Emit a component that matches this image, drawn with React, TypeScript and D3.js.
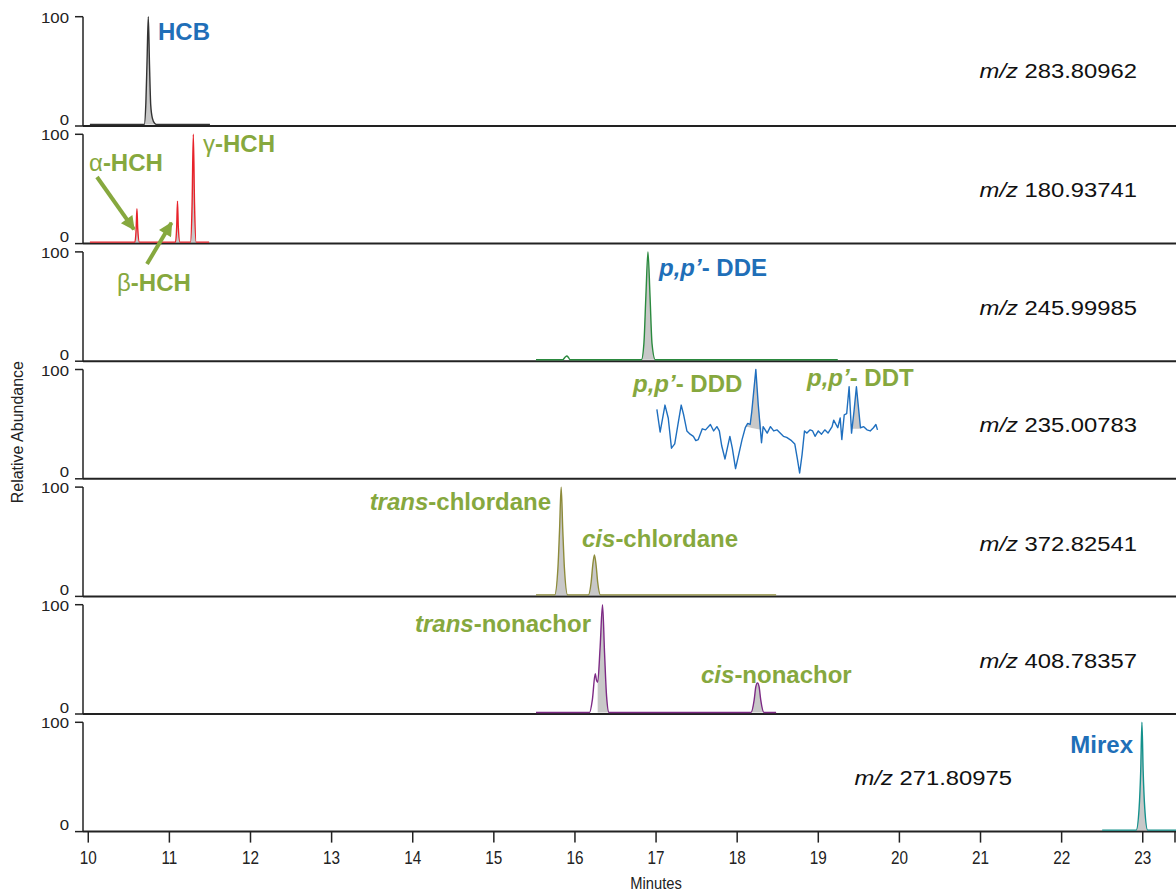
import React from 'react';
import * as d3 from 'd3';

const W = 1176;
const H = 892;

// retention time axis (minutes)
const xTicks = [10, 11, 12, 13, 14, 15, 16, 17, 18, 19, 20, 21, 22, 23];
const xDomain = [9.935, 23.41];

// HCB, m/z 283.80962
const hcbTime = [10.02, 10.69, 10.71, 10.725, 10.74, 10.755, 10.77, 10.79, 10.82, 10.85, 11.5];
const hcbAbund = [0, 0, 20, 60, 100, 55, 18, 6, 1, 0, 0];

// alpha / beta / gamma HCH, m/z 180.93741
const hchTime = [10.02, 10.575, 10.59, 10.60, 10.61, 10.63, 11.075, 11.09, 11.10, 11.11, 11.13, 11.26, 11.28, 11.295, 11.31, 11.33, 11.49];
const hchAbund = [0, 0, 12, 31, 12, 0, 0, 14, 38, 14, 0, 0, 35, 100, 35, 0, 0];

// p,p'-DDE, m/z 245.99985
const ddeTime = [15.52, 15.85, 15.88, 15.90, 15.92, 15.94, 16.82, 16.85, 16.875, 16.90, 16.925, 16.95, 16.99, 19.24];
const ddeAbund = [0, 0, 2.5, 3.5, 2, 0, 0, 15, 60, 100, 60, 15, 0, 0];

// p,p'-DDD and p,p'-DDT, m/z 235.00783
const ddTime = [
  17.01, 17.05, 17.11, 17.15, 17.19, 17.23, 17.27, 17.31, 17.34, 17.38,
  17.42, 17.46, 17.49, 17.52, 17.57, 17.61, 17.67, 17.71, 17.75, 17.78,
  17.81, 17.85, 17.89, 17.91, 17.94, 17.98, 18.01, 18.06, 18.10, 18.13,
  18.16, 18.18, 18.23, 18.26, 18.30, 18.32, 18.37, 18.41, 18.45, 18.49,
  18.53, 18.57, 18.61, 18.67, 18.71, 18.74, 18.77, 18.80, 18.83, 18.86,
  18.90, 18.93, 18.96, 19.00, 19.04, 19.08, 19.12, 19.17, 19.19, 19.24,
  19.27, 19.29, 19.32, 19.35, 19.38, 19.41, 19.44, 19.47, 19.52, 19.56,
  19.60, 19.64, 19.68, 19.71, 19.73
];
const ddAbund = [
  63, 42, 67, 55, 27, 31, 49, 67, 58, 43,
  40, 38, 34, 35, 45, 44, 49, 43, 47, 43,
  29, 17, 31, 38, 27, 8, 18, 35, 46, 50,
  49, 61, 100, 67, 32, 47, 41, 47, 43, 44,
  41, 38, 37, 34, 31, 18, 4, 21, 43, 41,
  44, 43, 38, 43, 40, 44, 41, 47, 53, 46,
  55, 35, 58, 59, 84, 41, 61, 84, 46, 47,
  44, 43, 46, 49, 44
];

// trans / cis chlordane, m/z 372.82541
const chlTime = [15.52, 15.75, 15.79, 15.81, 15.83, 15.85, 15.87, 15.91, 16.165, 16.20, 16.22, 16.24, 16.26, 16.28, 16.315, 18.48];
const chlAbund = [0, 0, 25, 60, 100, 60, 25, 0, 0, 12, 28, 37, 28, 12, 0, 0];

// trans / cis nonachlor, m/z 408.78357
const nonTime = [15.52, 16.18, 16.215, 16.25, 16.265, 16.28, 16.31, 16.34, 16.365, 16.39, 16.42, 18.17, 18.21, 18.23, 18.25, 18.27, 18.29, 18.33, 18.48];
const nonAbund = [0, 0, 12, 36, 30, 28, 60, 100, 55, 15, 0, 0, 12, 24, 27.5, 24, 12, 0, 0];

// Mirex, m/z 271.80975
const mirTime = [22.50, 22.92, 22.955, 22.975, 22.99, 23.005, 23.025, 23.06, 23.41];
const mirAbund = [0, 0, 20, 55, 100, 55, 20, 0, 0];

const mzValues = ['283.80962', '180.93741', '245.99985', '235.00783', '372.82541', '408.78357', '271.80975'];
const traceColors = ['#333333', '#e8222a', '#2a8a3e', '#1f6fbf', '#8d8b3a', '#7d2a85', '#14918c'];

// integrated regions: [from, to, base at from, base at to]
const hcbFills = [[10.69, 10.85, 0, 0]];
const hchFills = [[10.575, 10.63, 0, 0], [11.075, 11.13, 0, 0], [11.26, 11.33, 0, 0]];
const ddeFills = [[16.82, 16.99, 0, 0]];
const ddFills = [[18.10, 18.30, 47, 44], [19.41, 19.52, 45, 45]];
const chlFills = [[15.75, 15.91, 0, 0], [16.165, 16.315, 0, 0]];
const nonFills = [[16.28, 16.42, 0, 0], [18.17, 18.33, 0, 0]];
const mirFills = [[22.92, 23.06, 0, 0]];

const GREEN = '#86a83e';
const BLUE = '#1f6fb8';
const FONT = '"Liberation Sans", Arial, Helvetica, sans-serif';

const panels = [
  { t: hcbTime, v: hcbAbund, fills: hcbFills, curve: d3.curveMonotoneX },
  { t: hchTime, v: hchAbund, fills: hchFills, curve: d3.curveMonotoneX },
  { t: ddeTime, v: ddeAbund, fills: ddeFills, curve: d3.curveMonotoneX },
  { t: ddTime, v: ddAbund, fills: ddFills, curve: d3.curveLinear },
  { t: chlTime, v: chlAbund, fills: chlFills, curve: d3.curveMonotoneX },
  { t: nonTime, v: nonAbund, fills: nonFills, curve: d3.curveMonotoneX },
  { t: mirTime, v: mirAbund, fills: mirFills, curve: d3.curveMonotoneX }
];

const AXIS_X = 83;
const TOP0 = 16.7;
const STEP = 117.6;
const PANEL_H = 109.3;
const TAG = 24;

// text with a horizontal stretch, left/baseline anchored
const Label = ({ x, y, size, sx = 1, anchor = 'start', weight = 'normal', fill = '#111', children }) => (
  <text
    transform={`translate(${x},${y}) scale(${sx},1)`}
    fontSize={size}
    fontWeight={weight}
    fill={fill}
    textAnchor={anchor}
  >
    {children}
  </text>
);

const App = () => {
  const x = d3.scaleLinear().domain(xDomain).range([AXIS_X, W]);
  const lastBase = TOP0 + 6 * STEP + PANEL_H;

  const mzLabelPos = [
    { x: 1137, y: 78 },
    { x: 1137, y: 197 },
    { x: 1137, y: 315 },
    { x: 1137, y: 432 },
    { x: 1137, y: 551 },
    { x: 1137, y: 668 },
    { x: 1012, y: 785 }
  ];

  return (
    <svg width={W} height={H} style={{ position: 'absolute', left: 0, top: 0, background: '#fff' }} fontFamily={FONT}>
      <defs>
        <marker id="arrowHead" viewBox="0 0 10 10" refX="9" refY="5" markerWidth="18" markerHeight="14"
          markerUnits="userSpaceOnUse" orient="auto">
          <path d="M0,0 L10,5 L0,10 z" fill={GREEN} />
        </marker>
      </defs>

      {panels.map((p, i) => {
        const top = TOP0 + i * STEP;
        const base = top + PANEL_H;
        const y = d3.scaleLinear().domain([0, 100]).range([base - 1.5, top]);
        const pts = p.t.map((t, k) => [t, p.v[k]]);
        const line = d3.line().x(d => x(d[0])).y(d => y(d[1])).curve(p.curve);
        return (
          <g key={i}>
            {p.fills.map((f, j) => {
              const baseAt = t => f[2] + (f[3] - f[2]) * (t - f[0]) / (f[1] - f[0]);
              const seg = pts.filter(d => d[0] >= f[0] - 1e-9 && d[0] <= f[1] + 1e-9);
              const area = d3.area()
                .x(d => x(d[0]))
                .y0(d => y(baseAt(d[0])))
                .y1(d => y(Math.max(d[1], baseAt(d[0]))))
                .curve(p.curve);
              return <path key={j} d={area(seg)} fill="#c8c8c8" stroke="none" />;
            })}
            {/* baseline of the panel */}
            <line x1={AXIS_X} x2={W} y1={base} y2={base} stroke="#222" strokeWidth={2} />
            <path d={line(pts)} fill="none" stroke={traceColors[i]} strokeWidth={1.4} strokeLinejoin="round" />
            {/* y axis */}
            <line x1={AXIS_X} x2={AXIS_X} y1={top} y2={base} stroke="#222" strokeWidth={1.5} />
            <line x1={AXIS_X - 8} x2={AXIS_X} y1={top} y2={top} stroke="#222" strokeWidth={1.5} />
            <line x1={AXIS_X - 8} x2={AXIS_X} y1={base} y2={base} stroke="#222" strokeWidth={1.5} />
            <Label x={69} y={top + 6} size={15} sx={1.12} anchor="end" fill="#222">100</Label>
            <Label x={69} y={base - 1.5} size={15} sx={1.12} anchor="end" fill="#222">0</Label>
            <Label x={mzLabelPos[i].x} y={mzLabelPos[i].y} size={20} sx={1.19} anchor="end" fill="#111">
              <tspan fontStyle="italic">m/z</tspan>
              <tspan> {mzValues[i]}</tspan>
            </Label>
          </g>
        );
      })}

      {/* bottom time axis */}
      {xTicks.map(t => (
        <g key={t}>
          <line x1={x(t)} x2={x(t)} y1={lastBase} y2={lastBase + 11} stroke="#222" strokeWidth={1.5} />
          <Label x={x(t)} y={lastBase + 32} size={18} sx={0.85} anchor="middle" fill="#222">{t}</Label>
        </g>
      ))}
      <line x1={x(xDomain[1]) - 1} x2={x(xDomain[1]) - 1} y1={lastBase} y2={lastBase + 11} stroke="#222" strokeWidth={1.5} />
      <Label x={x(17)} y={lastBase + 57} size={16} sx={0.92} anchor="middle" fill="#222">Minutes</Label>
      <text transform={`translate(23,${(TOP0 + lastBase) / 2 + 8}) rotate(-90)`} fontSize={16} textAnchor="middle" fill="#222">
        Relative Abundance
      </text>

      {/* compound annotations */}
      <Label x={158} y={39.5} size={TAG} weight="bold" fill={BLUE}>HCB</Label>
      <Label x={89} y={170.5} size={TAG} fill={GREEN}>
        <tspan>α</tspan><tspan fontWeight="bold">-HCH</tspan>
      </Label>
      <Label x={203} y={151.5} size={TAG} fill={GREEN}>
        <tspan>γ</tspan><tspan fontWeight="bold">-HCH</tspan>
      </Label>
      <Label x={117} y={290.5} size={TAG} fill={GREEN}>
        <tspan>β</tspan><tspan fontWeight="bold">-HCH</tspan>
      </Label>
      <line x1={97} y1={177} x2={x(10.60) - 3} y2={TOP0 + STEP + PANEL_H * 0.87}
        stroke={GREEN} strokeWidth={4} markerEnd="url(#arrowHead)" />
      <line x1={147} y1={264} x2={x(11.10) - 6} y2={TOP0 + STEP + PANEL_H * 0.81}
        stroke={GREEN} strokeWidth={4} markerEnd="url(#arrowHead)" />

      <Label x={659} y={276} size={TAG} weight="bold" fill={BLUE}>
        <tspan fontStyle="italic">p,p’</tspan><tspan>- DDE</tspan>
      </Label>
      <Label x={633} y={391.5} size={TAG} weight="bold" fill={GREEN}>
        <tspan fontStyle="italic">p,p’</tspan><tspan>- DDD</tspan>
      </Label>
      <Label x={807} y={386} size={TAG} weight="bold" fill={GREEN}>
        <tspan fontStyle="italic">p,p’</tspan><tspan>- DDT</tspan>
      </Label>
      <Label x={551} y={510} size={TAG} weight="bold" anchor="end" fill={GREEN}>
        <tspan fontStyle="italic">trans</tspan><tspan>-chlordane</tspan>
      </Label>
      <Label x={582} y={546.5} size={TAG} weight="bold" fill={GREEN}>
        <tspan fontStyle="italic">cis</tspan><tspan>-chlordane</tspan>
      </Label>
      <Label x={591} y={631.5} size={TAG} weight="bold" anchor="end" fill={GREEN}>
        <tspan fontStyle="italic">trans</tspan><tspan>-nonachor</tspan>
      </Label>
      <Label x={701} y={682.5} size={TAG} weight="bold" fill={GREEN}>
        <tspan fontStyle="italic">cis</tspan><tspan>-nonachor</tspan>
      </Label>
      <Label x={1133} y={752.5} size={TAG} weight="bold" anchor="end" fill={BLUE}>Mirex</Label>
    </svg>
  );
};

export default App;
